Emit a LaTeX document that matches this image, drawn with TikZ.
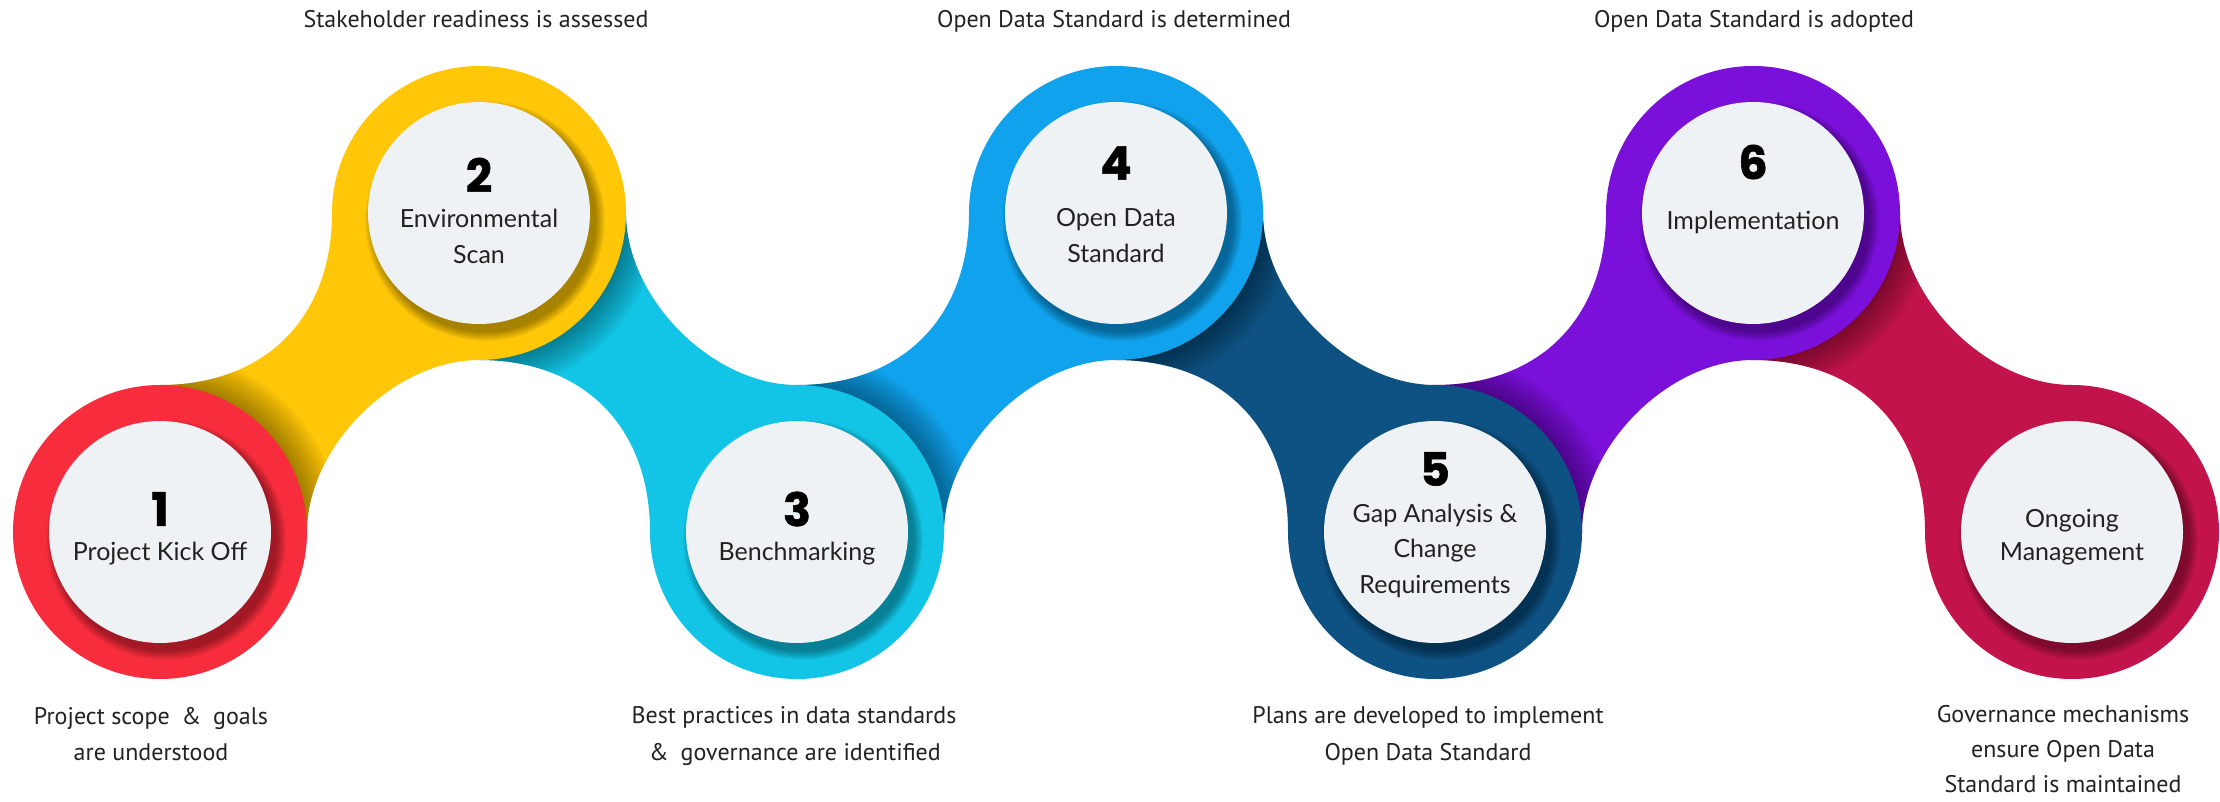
\documentclass[tikz,border=0pt]{standalone}
\usepackage{fontspec}
\usetikzlibrary{calc}
\newfontfamily\notefont{PT Sans}
\newfontfamily\titlefont{Lato}
\newfontfamily\digitfont{Poppins}[FakeBold=1.2]

\definecolor{ringA}{HTML}{F72D3D}
\definecolor{ringB}{HTML}{FFC708}
\definecolor{ringC}{HTML}{12C5E6}
\definecolor{ringD}{HTML}{10A2EC}
\definecolor{ringE}{HTML}{0E5283}
\definecolor{ringF}{HTML}{7A10DA}
\definecolor{ringG}{HTML}{C2144A}
\definecolor{disc}{HTML}{EFF2F4}
\definecolor{ink}{HTML}{222222}

% disc radii and bend of the links
\newcommand\Rout{147}
\newcommand\Rin{111}
\newcommand\ca{105}
\newcommand\cb{85}

% link from a lower disc #1 to the upper disc #2 on its right
\def\linkpathup#1#2{($(#1)+(0,-\Rout)$) .. controls ($(#1)+(\ca,-\Rout)$) and ($(#2)+(-\Rout,\ca)$) .. ($(#2)+(-\Rout,0)$)
  -- ($(#2)+(0,\Rout)$) .. controls ($(#2)+(-\cb,\Rout)$) and ($(#1)+(\Rout,-\cb)$) .. ($(#1)+(\Rout,0)$) -- cycle}
% link from an upper disc #1 to the lower disc #2 on its right
\def\linkpathdown#1#2{($(#1)+(0,\Rout)$) .. controls ($(#1)+(\ca,\Rout)$) and ($(#2)+(-\Rout,-\ca)$) .. ($(#2)+(-\Rout,0)$)
  -- ($(#2)+(0,-\Rout)$) .. controls ($(#2)+(-\cb,-\Rout)$) and ($(#1)+(\Rout,\cb)$) .. ($(#1)+(\Rout,0)$) -- cycle}

\newcommand\linkup[3]{%
  \fill[#3] \linkpathup{#1}{#2};
  \begin{scope}
    \clip \linkpathup{#1}{#2};
    \foreach \k in {1,...,12} {\fill[black,opacity=0.035] (#1) circle ({\Rout+36-3*\k});}
  \end{scope}}
\newcommand\linkdown[3]{%
  \fill[#3] \linkpathdown{#1}{#2};
  \begin{scope}
    \clip \linkpathdown{#1}{#2};
    \foreach \k in {1,...,12} {\fill[black,opacity=0.035] (#1) circle ({\Rout+36-3*\k});}
  \end{scope}}

\tikzset{
  digit/.style={inner sep=0pt, font=\digitfont\bfseries\fontsize{46}{46}\selectfont, text=black},
  steptext/.style={inner sep=0pt, anchor=base, font=\titlefont\fontsize{25}{30}\selectfont, text=ink},
  note/.style={inner sep=0pt, anchor=base, font=\notefont\fontsize{24}{30}\selectfont, text=ink}
}

\begin{document}
\begin{tikzpicture}[x=1pt,y=-1pt]
\useasboundingbox (0,0) rectangle (2220,802);
\fill[white] (0,0) rectangle (2220,802);

% disc centres
\coordinate (p1) at (160,532);
\coordinate (p2) at (479,213);
\coordinate (p3) at (797,532);
\coordinate (p4) at (1116,213);
\coordinate (p5) at (1435,532);
\coordinate (p6) at (1753,213);
\coordinate (p7) at (2072,532);

% ribbons between the discs
\linkup{p1}{p2}{ringB}
\linkdown{p2}{p3}{ringC}
\linkup{p3}{p4}{ringD}
\linkdown{p4}{p5}{ringE}
\linkup{p5}{p6}{ringF}
\linkdown{p6}{p7}{ringG}

% coloured rings with raised white discs
\foreach \i/\c in {1/ringA,2/ringB,3/ringC,4/ringD,5/ringE,6/ringF,7/ringG} {
  \fill[\c] (p\i) circle (\Rout);
  \foreach \k in {1,...,10} {\fill[black,opacity=0.04] ($(p\i)+(6,8)$) circle ({\Rin+10-1.0*\k});}
  \fill[disc] (p\i) circle (\Rin);
}

% step numbers and titles
\node[digit] (n1) at (160,509) {1};
\node[steptext] (s1) at (160,560) {Project Kick Off};

\node[digit] (n2) at (479,175) {2};
\node[steptext] (s2a) at (479,228) {Environmental};
\node[steptext] (s2b) at (479,264) {Scan};

\node[digit] (n3) at (797,509) {3};
\node[steptext] (s3) at (797,560) {Benchmarking};

\node[digit] (n4) at (1116,163) {4};
\node[steptext] (s4a) at (1116,227) {Open Data};
\node[steptext] (s4b) at (1116,263) {Standard};

\node[digit] (n5) at (1435,469) {5};
\node[steptext] (s5a) at (1435,522) {Gap Analysis \&};
\node[steptext] (s5b) at (1435,557) {Change};
\node[steptext] (s5c) at (1435,593) {Requirements};

\node[digit] (n6) at (1753,162) {6};
\node[steptext] (s6) at (1753,230) {Implementation};

\node[steptext] (s7a) at (2072,527) {Ongoing};
\node[steptext] (s7b) at (2072,560) {Management};

% outcome notes above the upper discs
\node[note] (o2) at (476,28) {Stakeholder readiness is assessed};
\node[note] (o4) at (1114,28) {Open Data Standard is determined};
\node[note] (o6) at (1754,28) {Open Data Standard is adopted};

% outcome notes below the lower discs
\node[note] (o1a) at (151,724) {Project scope\enspace\&\enspace goals};
\node[note] (o1b) at (151,760) {are understood};
\node[note] (o3a) at (794,723) {Best practices in data standards};
\node[note] (o3b) at (795,760) {\&\enspace governance are identified};
\node[note] (o5a) at (1428,723) {Plans are developed to implement};
\node[note] (o5b) at (1428,760) {Open Data Standard};
\node[note] (o7a) at (2063,722) {Governance mechanisms};
\node[note] (o7b) at (2063,757) {ensure Open Data};
\node[note] (o7c) at (2063,792) {Standard is maintained};
\end{tikzpicture}
\end{document}
